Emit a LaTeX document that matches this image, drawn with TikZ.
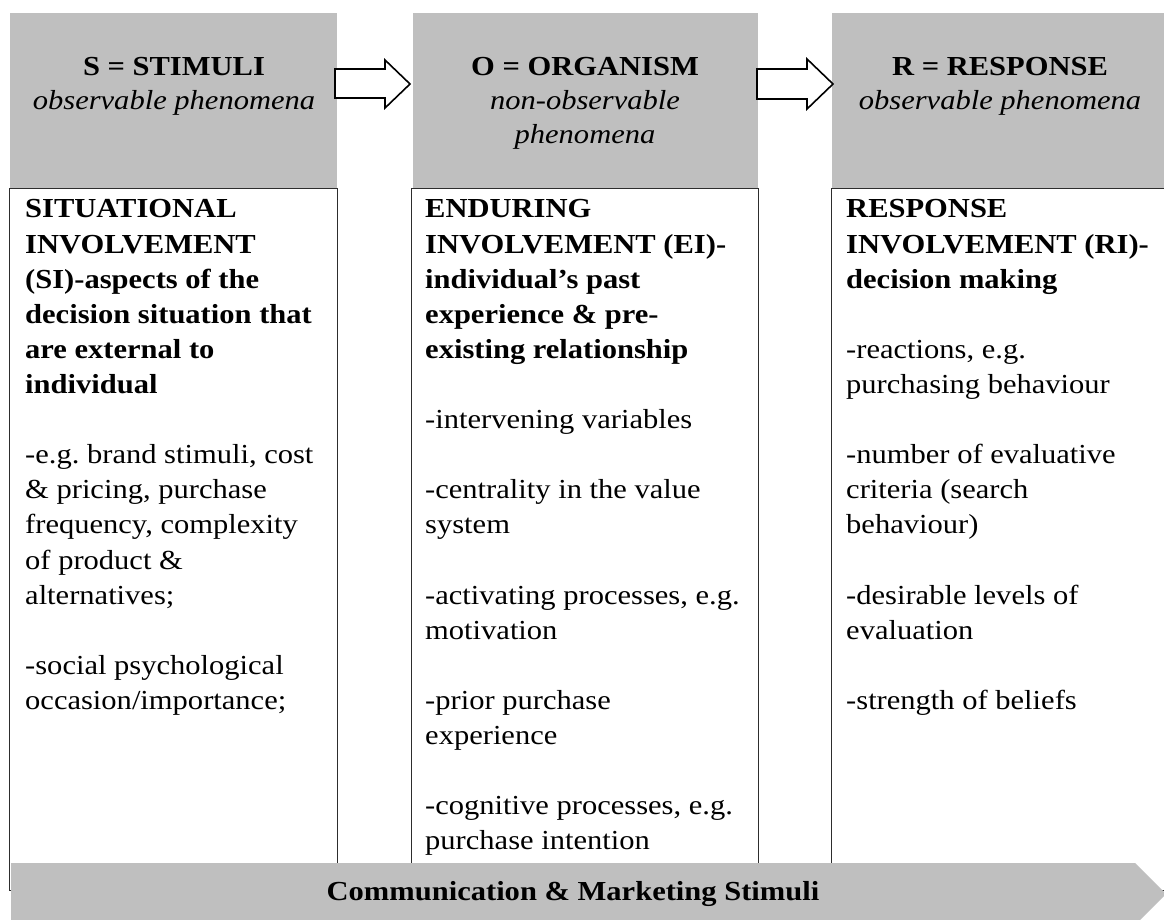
\documentclass[tikz,border=0pt]{standalone}
\usepackage{fontspec}
\setmainfont{Liberation Serif}[FakeStretch=1.11]
\definecolor{hgray}{RGB}{191,191,191}
\definecolor{bord}{RGB}{45,45,45}
\begin{document}
\frenchspacing
\begin{tikzpicture}[x=1pt,y=-1pt,
  hdr/.style={fill=hgray, draw=none, inner sep=0pt, anchor=north west},
  bodybox/.style={draw=bord, line width=1.2pt, fill=white, inner sep=0pt, anchor=north west},
  blockarrow/.style={draw=black, line width=1.6pt, fill=white, line join=miter},
  txt/.style={anchor=base west, inner sep=0pt, font=\fontsize{27.5}{35.1}\selectfont},
  htxt/.style={anchor=base, inner sep=0pt, font=\fontsize{27.5}{34}\selectfont},
  bantxt/.style={anchor=base, inner sep=0pt, font=\fontsize{27.5}{30}\selectfont\bfseries}]
\useasboundingbox (0,0) rectangle (1164,920);
\clip (0,0) rectangle (1164,920);
\fill[white] (0,0) rectangle (1164,920);

% header boxes
\node[hdr, minimum width=327pt, minimum height=175pt] (hS) at (10,13) {};
\node[hdr, minimum width=345pt, minimum height=175pt] (hO) at (413,13) {};
\node[hdr, minimum width=360pt, minimum height=175pt] (hR) at (832,13) {};

% body boxes
\node[bodybox, minimum width=328pt, minimum height=702pt] (bS) at (9,188) {};
\node[bodybox, minimum width=347pt, minimum height=702pt] (bO) at (411,188) {};
\node[bodybox, minimum width=380pt, minimum height=702pt] (bR) at (831,188) {};

% header texts
\node[htxt] (tS) at (174,76) {\parbox[t]{320pt}{\centering\textbf{S = STIMULI}\\ \textit{observable phenomena}}};
\node[htxt] (tO) at (585,76) {\parbox[t]{330pt}{\centering\textbf{O = ORGANISM}\\ \textit{non-observable}\\ \textit{phenomena}}};
\node[htxt] (tR) at (1000,76) {\parbox[t]{330pt}{\centering\textbf{R = RESPONSE}\\ \textit{observable phenomena}}};

% block arrows
\draw[blockarrow] (335,69) -- (385,69) -- (385,60) -- (410,84) -- (385,108) -- (385,98) -- (335,98) -- cycle;
\draw[blockarrow] (757,69) -- (807,69) -- (807,59) -- (833,84) -- (807,109) -- (807,99) -- (757,99) -- cycle;

% body texts
\node[txt] (xS) at (25,218) {\parbox[t]{320pt}{\raggedright
\textbf{SITUATIONAL}\\
\textbf{INVOLVEMENT}\\
\textbf{(SI)-aspects of the}\\
\textbf{decision situation that}\\
\textbf{are external to}\\
\textbf{individual}\\[35.1pt]
-e.g. brand stimuli, cost\\
\& pricing, purchase\\
frequency, complexity\\
of product \&\\
alternatives;\\[35.1pt]
-social psychological\\
occasion/importance;}};

\node[txt] (xO) at (425,218) {\parbox[t]{340pt}{\raggedright
\textbf{ENDURING}\\
\textbf{INVOLVEMENT (EI)-}\\
\textbf{individual’s past}\\
\textbf{experience \& pre-}\\
\textbf{existing relationship}\\[35.1pt]
-intervening variables\\[35.1pt]
-centrality in the value\\
system\\[35.1pt]
-activating processes, e.g.\\
motivation\\[35.1pt]
-prior purchase\\
experience\\[35.1pt]
-cognitive processes, e.g.\\
purchase intention}};

\node[txt] (xR) at (846,218) {\parbox[t]{320pt}{\raggedright
\textbf{RESPONSE}\\
\textbf{INVOLVEMENT (RI)-}\\
\textbf{decision making}\\[35.1pt]
-reactions, e.g.\\
purchasing behaviour\\[35.1pt]
-number of evaluative\\
criteria (search\\
behaviour)\\[35.1pt]
-desirable levels of\\
evaluation\\[35.1pt]
-strength of beliefs}};

% bottom banner
\fill[hgray] (11,863) -- (1135,863) -- (1166,894) -- (1135,925) -- (11,925) -- cycle;
\node[bantxt] (ban) at (573,900) {Communication \& Marketing Stimuli};
\end{tikzpicture}
\end{document}
